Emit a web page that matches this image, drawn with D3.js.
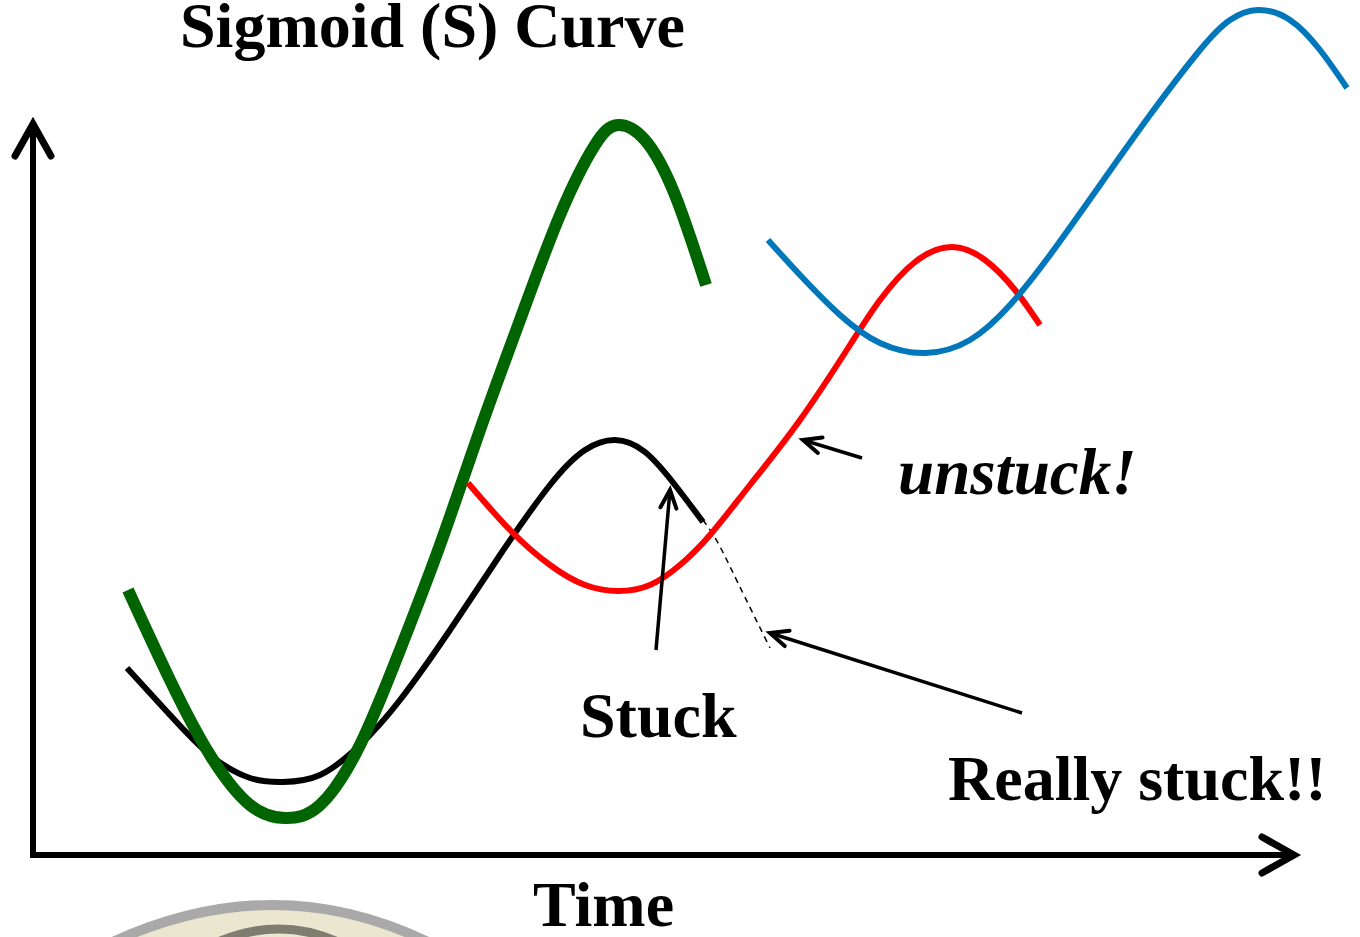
<!DOCTYPE html>
<html><head><meta charset="utf-8">
<script src="https://cdn.jsdelivr.net/npm/d3@7"></script>
<style>html,body{margin:0;padding:0;background:#fff;overflow:hidden}</style>
</head><body>
<script>
// Data (x: time units from origin, y: height from origin)
const greenCurve = [[95,265],[137,175],[177,100],[217,50],[252,37],[287,50],[327,110],[367,205],[407,310],[447,425],[487,535],[527,640],[562,710],[585,730],[612,715],[642,660],[673,570]];
const blackCurve = [[94,187],[137,140],[177,100],[217,77],[250,73],[287,80],[327,110],[367,155],[417,225],[467,300],[517,370],[552,405],[582,415],[612,403],[642,370],[670,333]];
const blackDashed = [[670,335],[685,312],[705,272],[737,207]];
const redCurve = [[435,372],[477,325],[517,290],[552,270],[585,264],[617,270],[647,290],[677,320],[717,370],[767,435],[817,510],[847,555],[882,593],[919,608],[952,595],[982,565],[1007,530]];
const blueCurve = [[735,615],[767,580],[807,540],[847,512],[892,502],[937,515],[977,550],[1017,600],[1067,670],[1117,740],[1167,805],[1197,835],[1225,845],[1257,835],[1287,805],[1314,767]];
const labelTexts = ["Sigmoid (S) Curve","unstuck!","Stuck","Really stuck!!","Time"];
const labelAnchors = [[147,808],[865,361],[547,118],[915,55],[500,-71]];
const pointerFrom = [[829,397],[623,205],[989,142]];
const pointerTo = [[770,415],[637,365],[737,222]];

const W=1360,H=937;
const x = d3.scaleLinear().domain([0,1260]).range([33,1293]);
const y = d3.scaleLinear().domain([0,735]).range([855,120]);

const svg = d3.select("body").append("svg").attr("width",W).attr("height",H);

// decorative partial image at bottom-left
const deco = svg.append("g");
deco.append("path").attr("d","M100,948 Q275,862 440,948 Z").attr("fill","#ebe6cf");
deco.append("path").attr("d","M100,948 Q275,862 440,948").attr("fill","none").attr("stroke","#a9a9a9").attr("stroke-width",10);
deco.append("path").attr("d","M205,948 Q280,910 350,948").attr("fill","none").attr("stroke","#5a5a50").attr("stroke-width",9).attr("opacity",0.75);

const defs = svg.append("defs");
defs.append("marker").attr("id","bigArrow").attr("markerUnits","userSpaceOnUse")
  .attr("viewBox","-40 -25 50 50").attr("refX",0).attr("refY",0)
  .attr("markerWidth",50).attr("markerHeight",50).attr("orient","auto")
  .append("path").attr("d","M-32,-18 L0,0 L-32,18").attr("fill","none")
  .attr("stroke","#000").attr("stroke-width",7).attr("stroke-linecap","round").attr("stroke-linejoin","miter");
defs.append("marker").attr("id","smallArrow").attr("markerUnits","userSpaceOnUse")
  .attr("viewBox","-25 -15 30 30").attr("refX",0).attr("refY",0)
  .attr("markerWidth",30).attr("markerHeight",30).attr("orient","auto")
  .append("path").attr("d","M-18,-8 L0,0 L-18,8").attr("fill","none")
  .attr("stroke","#000").attr("stroke-width",4).attr("stroke-linecap","round");

// axes
svg.append("line").attr("x1",x(0)).attr("y1",y(0)+3).attr("x2",x(0)).attr("y2",y(731))
  .attr("stroke","#000").attr("stroke-width",6).attr("marker-end","url(#bigArrow)");
svg.append("line").attr("x1",x(0)-3).attr("y1",y(0)).attr("x2",x(1261)).attr("y2",y(0))
  .attr("stroke","#000").attr("stroke-width",6).attr("marker-end","url(#bigArrow)");

const line = d3.line().x(d=>x(d[0])).y(d=>y(d[1])).curve(d3.curveNatural);

svg.append("path").attr("d",line(blackDashed)).attr("fill","none").attr("stroke","#000")
  .attr("stroke-width",1.5).attr("stroke-dasharray","6,5");
svg.append("path").attr("d",line(blackCurve)).attr("fill","none").attr("stroke","#000").attr("stroke-width",6);
svg.append("path").attr("d",line(greenCurve)).attr("fill","none").attr("stroke","#006400").attr("stroke-width",12);
svg.append("path").attr("d",line(redCurve)).attr("fill","none").attr("stroke","#ff0000").attr("stroke-width",6);
svg.append("path").attr("d",line(blueCurve)).attr("fill","none").attr("stroke","#0077bb").attr("stroke-width",6);

pointerFrom.forEach((f,i)=>{
  const t = pointerTo[i];
  svg.append("line").attr("x1",x(f[0])).attr("y1",y(f[1]))
    .attr("x2",x(t[0])).attr("y2",y(t[1]))
    .attr("stroke","#000").attr("stroke-width",3.5).attr("marker-end","url(#smallArrow)");
});

labelTexts.forEach((txt,i)=>{
  const a = labelAnchors[i];
  svg.append("text").attr("x",x(a[0])).attr("y",y(a[1]))
    .attr("font-family","'Liberation Serif','Times New Roman',serif")
    .attr("font-weight","bold").attr("font-style",txt==="unstuck!"?"italic":"normal")
    .attr("font-size",txt==="unstuck!"?65:64).attr("fill","#000").text(txt);
});
</script>
</body></html>
